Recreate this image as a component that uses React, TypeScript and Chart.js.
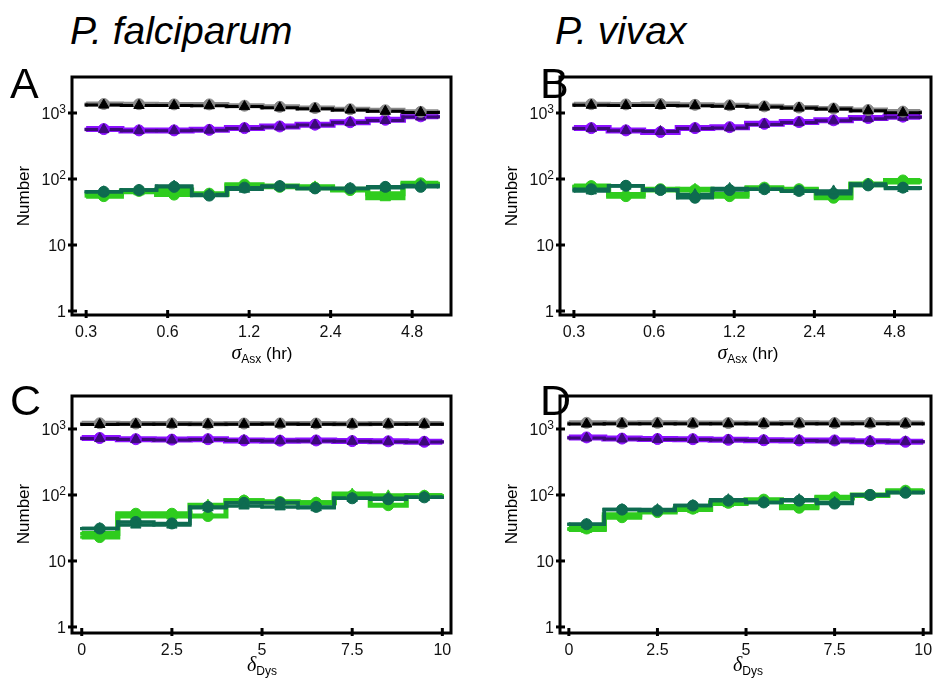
import React, { useEffect, useRef } from 'react';
import { Chart, registerables } from 'chart.js';
Chart.register(...registerables);

// ---------- data ----------
const sigmaEdges = [0.3, 0.405, 0.546, 0.736, 0.993, 1.34, 1.81, 2.44, 3.29, 4.44, 6.0];
const deltaEdges = [0, 1, 2, 3, 4, 5, 6, 7, 8, 9, 10];
const sigmaTicks = [0.3, 0.6, 1.2, 2.4, 4.8];
const sigmaTickLabels = ['0.3', '0.6', '1.2', '2.4', '4.8'];
const deltaTicks = [0, 2.5, 5, 7.5, 10];
const deltaTickLabels = ['0', '2.5', '5', '7.5', '10'];
const yTicks = [1, 10, 100, 1000];
const yTickBase = ['1', '10', '10', '10'];
const yTickExp = ['', '', '2', '3'];

// Panel A (P. falciparum, sigma)
const A_grayC = [1370, 1360, 1350, 1350, 1290, 1240, 1190, 1140, 1100, 1040];
const A_blackT = [1320, 1300, 1300, 1290, 1250, 1200, 1160, 1110, 1060, 1020];
const A_purpleLC = [570, 545, 545, 555, 590, 625, 665, 725, 790, 890];
const A_purpleDT = [560, 540, 540, 550, 580, 615, 655, 715, 770, 870];
const A_greenLC = [55, 66, 58, 60, 82, 76, 74, 68, 60, 86];
const A_greenLT = [60, 64, 68, 58, 78, 78, 76, 70, 52, 82];
const A_greenDC = [64, 68, 76, 56, 74, 78, 72, 72, 76, 76];
const A_greenDT = [64, 68, 78, 58, 70, 76, 72, 72, 74, 80];

// Panel B (P. vivax, sigma)
const B_grayC = [1360, 1350, 1370, 1330, 1310, 1260, 1210, 1170, 1110, 1050];
const B_blackT = [1310, 1300, 1300, 1290, 1270, 1230, 1190, 1150, 1080, 1010];
const B_purpleLC = [590, 545, 515, 590, 610, 685, 730, 775, 840, 880];
const B_purpleDT = [580, 540, 525, 580, 595, 670, 715, 760, 820, 860];
const B_greenLC = [78, 55, 70, 68, 55, 74, 70, 52, 84, 95];
const B_greenLT = [76, 58, 68, 70, 58, 72, 68, 55, 82, 90];
const B_greenDC = [70, 79, 68, 52, 68, 70, 66, 60, 80, 74];
const B_greenDT = [66, 78, 68, 58, 72, 70, 65, 66, 84, 72];

// Panel C (P. falciparum, delta)
const C_grayC = [1220, 1210, 1215, 1205, 1210, 1215, 1210, 1205, 1210, 1215];
const C_blackT = [1170, 1180, 1180, 1175, 1180, 1185, 1175, 1180, 1180, 1175];
const C_purpleLC = [730, 700, 690, 700, 670, 665, 670, 655, 650, 640];
const C_purpleDT = [715, 690, 680, 690, 670, 660, 660, 650, 640, 635];
const C_greenLC = [23, 52, 52, 48, 82, 78, 76, 97, 70, 97];
const C_greenLT = [26, 48, 48, 70, 82, 78, 76, 103, 97, 97];
const C_greenDC = [31, 39, 37, 66, 76, 76, 66, 89, 86, 92];
const C_greenDT = [31, 35, 35, 64, 68, 66, 64, 89, 89, 92];

// Panel D (P. vivax, delta)
const D_grayC = [1240, 1230, 1240, 1230, 1230, 1220, 1240, 1230, 1240, 1230];
const D_blackT = [1190, 1200, 1200, 1195, 1200, 1205, 1195, 1200, 1200, 1195];
const D_purpleLC = [745, 715, 705, 700, 685, 675, 670, 670, 650, 640];
const D_purpleDT = [730, 705, 695, 690, 680, 670, 670, 660, 650, 640];
const D_greenLC = [31, 46, 55, 62, 76, 85, 64, 92, 100, 116];
const D_greenLT = [30, 50, 58, 60, 74, 82, 67, 90, 98, 112];
const D_greenDC = [36, 60, 58, 69, 82, 77, 82, 74, 100, 108];
const D_greenDT = [36, 60, 60, 69, 85, 77, 85, 77, 100, 110];

// ---------- styles ----------
const GRAY = '#8a8a8a';
const BLACK = '#000000';
const PURPLE_L = '#8b10ff';
const PURPLE_D = '#3c0a78';
const GREEN_L = '#2fcc1e';
const GREEN_D = '#0e6b50';
const FONT = '"Liberation Sans", Arial, sans-serif';

type S = { vals: number[]; color: string; marker: string; lw: number; r: number };

function seriesFor(p: number[][]): S[] {
  const [gC, bT, pLC, pDT, gLC, gLT, gDC, gDT] = p;
  // top-most first
  return [
    { vals: bT, color: BLACK, marker: 'triangle', lw: 3, r: 5 },
    { vals: gC, color: GRAY, marker: 'circle', lw: 5, r: 5.5 },
    { vals: pDT, color: PURPLE_D, marker: 'triangle', lw: 3, r: 5 },
    { vals: pLC, color: PURPLE_L, marker: 'circle', lw: 6, r: 5.5 },
    { vals: gDT, color: GREEN_D, marker: 'triangle', lw: 3.5, r: 5 },
    { vals: gDC, color: GREEN_D, marker: 'circle', lw: 3.5, r: 5.5 },
    { vals: gLT, color: GREEN_L, marker: 'triangle', lw: 5, r: 5 },
    { vals: gLC, color: GREEN_L, marker: 'circle', lw: 5, r: 5.5 },
  ];
}

type PanelCfg = {
  left: number; top: number; width: number; height: number;
  padTop: number; padRight: number; yWidth: number; xHeight: number;
  xType: 'logarithmic' | 'linear'; xMin: number; xMax: number;
  xTicks: number[]; xLabels: string[]; edges: number[];
  yMin: number; yMax: number; series: S[];
};

const framePlugin = {
  id: 'frame',
  afterDraw(chart: any) {
    const { ctx, chartArea, scales } = chart;
    const { left, top, right, bottom } = chartArea;
    ctx.save();
    ctx.strokeStyle = '#000';
    ctx.lineWidth = 3;
    ctx.strokeRect(left, top, right - left, bottom - top);
    scales.x.ticks.forEach((t: any) => {
      const px = scales.x.getPixelForValue(t.value);
      ctx.beginPath();
      ctx.moveTo(px, bottom - 5);
      ctx.lineTo(px, bottom + 3);
      ctx.stroke();
    });
    ctx.fillStyle = '#111';
    ctx.textBaseline = 'alphabetic';
    ctx.textAlign = 'right';
    scales.y.ticks.forEach((t: any, i: number) => {
      const py = scales.y.getPixelForValue(t.value);
      ctx.beginPath();
      ctx.moveTo(left - 4, py);
      ctx.lineTo(left + 5, py);
      ctx.stroke();
      const base = yTickBase[i];
      const exp = yTickExp[i];
      let x = left - 6;
      const baseline = py + 6;
      if (exp) {
        ctx.font = `12px ${FONT}`;
        ctx.fillText(exp, x, baseline - 6);
        x -= ctx.measureText(exp).width;
      }
      ctx.font = `16px ${FONT}`;
      ctx.fillText(base, x, baseline);
    });
    ctx.restore();
  },
};

function Panel({ cfg }: { cfg: PanelCfg }) {
  const ref = useRef<HTMLCanvasElement>(null);
  useEffect(() => {
    const e = cfg.edges;
    const centers = e.slice(0, -1).map((x, i) =>
      cfg.xType === 'logarithmic' ? Math.sqrt(x * e[i + 1]) : (x + e[i + 1]) / 2
    );
    const markerSets: any[] = [];
    const lineSets: any[] = [];
    cfg.series.forEach((s) => {
      markerSets.push({
        data: centers.map((x, i) => ({ x, y: s.vals[i] })),
        showLine: false,
        pointStyle: s.marker,
        pointRadius: s.marker === 'triangle' ? s.r + 1 : s.r,
        pointBackgroundColor: s.color,
        pointBorderColor: s.color,
        pointBorderWidth: 1,
      });
      lineSets.push({
        data: e.map((x, i) => ({ x, y: s.vals[Math.min(i, s.vals.length - 1)] })),
        showLine: true,
        stepped: 'before',
        borderColor: s.color,
        borderWidth: s.lw,
        pointStyle: 'rect',
        pointRadius: 2.2,
        pointBackgroundColor: s.color,
        pointBorderColor: s.color,
        pointBorderWidth: 0,
        fill: false,
      });
    });
    const chart = new Chart(ref.current as HTMLCanvasElement, {
      type: 'scatter',
      data: { datasets: [...markerSets, ...lineSets] },
      options: {
        animation: false,
        responsive: false,
        events: [],
        layout: { padding: { top: cfg.padTop, right: cfg.padRight, left: 0, bottom: 0 } },
        plugins: { legend: { display: false }, tooltip: { enabled: false } },
        scales: {
          x: {
            type: cfg.xType,
            min: cfg.xMin,
            max: cfg.xMax,
            grid: { display: false },
            border: { display: false },
            afterBuildTicks: (sc: any) => {
              sc.ticks = cfg.xTicks.map((v) => ({ value: v }));
            },
            afterFit: (sc: any) => {
              sc.height = cfg.xHeight;
            },
            ticks: {
              autoSkip: false,
              maxRotation: 0,
              padding: 0,
              color: '#111',
              font: { family: FONT, size: 16 },
              callback: (_v: any, i: number) => cfg.xLabels[i],
            },
          } as any,
          y: {
            type: 'logarithmic',
            min: cfg.yMin,
            max: cfg.yMax,
            grid: { display: false },
            border: { display: false },
            afterBuildTicks: (sc: any) => {
              sc.ticks = yTicks.map((v) => ({ value: v }));
            },
            afterFit: (sc: any) => {
              sc.width = cfg.yWidth;
            },
            ticks: {
              autoSkip: false,
              padding: 6,
              color: 'rgba(0,0,0,0)',
              font: { family: FONT, size: 16 },
              callback: () => '',
            },
          } as any,
        },
      },
      plugins: [framePlugin],
    });
    return () => chart.destroy();
  }, [cfg]);
  return (
    <canvas
      ref={ref}
      width={cfg.width}
      height={cfg.height}
      style={{ position: 'absolute', left: cfg.left, top: cfg.top, width: cfg.width, height: cfg.height }}
    />
  );
}

const panels: PanelCfg[] = [
  {
    left: 0, top: 60, width: 470, height: 320, padTop: 17, padRight: 19, yWidth: 72, xHeight: 65,
    xType: 'logarithmic', xMin: 0.266, xMax: 6.68, xTicks: sigmaTicks, xLabels: sigmaTickLabels,
    edges: sigmaEdges, yMin: 0.87, yMax: 3510,
    series: seriesFor([A_grayC, A_blackT, A_purpleLC, A_purpleDT, A_greenLC, A_greenLT, A_greenDC, A_greenDT]),
  },
  {
    left: 488, top: 60, width: 450, height: 320, padTop: 17, padRight: 2, yWidth: 72, xHeight: 65,
    xType: 'logarithmic', xMin: 0.266, xMax: 6.58, xTicks: sigmaTicks, xLabels: sigmaTickLabels,
    edges: sigmaEdges, yMin: 0.87, yMax: 3510,
    series: seriesFor([B_grayC, B_blackT, B_purpleLC, B_purpleDT, B_greenLC, B_greenLT, B_greenDC, B_greenDT]),
  },
  {
    left: 0, top: 380, width: 470, height: 300, padTop: 16, padRight: 19, yWidth: 72, xHeight: 47,
    xType: 'linear', xMin: -0.27, xMax: 10.24, xTicks: deltaTicks, xLabels: deltaTickLabels,
    edges: deltaEdges, yMin: 0.81, yMax: 3160,
    series: seriesFor([C_grayC, C_blackT, C_purpleLC, C_purpleDT, C_greenLC, C_greenLT, C_greenDC, C_greenDT]),
  },
  {
    left: 488, top: 380, width: 450, height: 300, padTop: 16, padRight: 2, yWidth: 72, xHeight: 47,
    xType: 'linear', xMin: -0.25, xMax: 10.22, xTicks: deltaTicks, xLabels: deltaTickLabels,
    edges: deltaEdges, yMin: 0.81, yMax: 3160,
    series: seriesFor([D_grayC, D_blackT, D_purpleLC, D_purpleDT, D_greenLC, D_greenLT, D_greenDC, D_greenDT]),
  },
];

const abs = (l: number, t: number, extra: any = {}) => ({
  position: 'absolute' as const, left: l, top: t, lineHeight: 1, whiteSpace: 'nowrap' as const, fontFamily: FONT, color: '#000', ...extra,
});

function SigmaTitle({ cx, top }: { cx: number; top: number }) {
  return (
    <div style={abs(cx, top, { transform: 'translateX(-50%)', fontSize: 17 })}>
      <span style={{ fontFamily: '"Liberation Serif", serif', fontStyle: 'italic', fontSize: 20 }}>σ</span>
      <span style={{ fontSize: 12, position: 'relative', top: 4 }}>Asx</span>
      <span> (hr)</span>
    </div>
  );
}

function DeltaTitle({ cx, top }: { cx: number; top: number }) {
  return (
    <div style={abs(cx, top, { transform: 'translateX(-50%)', fontSize: 17 })}>
      <span style={{ fontFamily: '"Liberation Serif", serif', fontStyle: 'italic', fontSize: 20 }}>δ</span>
      <span style={{ fontSize: 12, position: 'relative', top: 4 }}>Dys</span>
    </div>
  );
}

function YTitle({ cx, cy }: { cx: number; cy: number }) {
  return (
    <div style={abs(cx, cy, { transform: 'translate(-50%, -50%) rotate(-90deg)', fontSize: 17 })}>Number</div>
  );
}

export default function App() {
  return (
    <div style={{ position: 'absolute', left: 0, top: 0, width: 938, height: 680, background: '#fff', overflow: 'hidden' }}>
      {panels.map((p, i) => (
        <Panel key={i} cfg={p} />
      ))}
      <div style={abs(70, 11, { fontSize: 39, fontStyle: 'italic' })}>P. falciparum</div>
      <div style={abs(555, 11, { fontSize: 39, fontStyle: 'italic' })}>P. vivax</div>
      <div style={abs(10, 62, { fontSize: 43 })}>A</div>
      <div style={abs(540, 62, { fontSize: 43 })}>B</div>
      <div style={abs(10, 379, { fontSize: 43 })}>C</div>
      <div style={abs(540, 379, { fontSize: 43 })}>D</div>
      <YTitle cx={23} cy={196} />
      <YTitle cx={511} cy={196} />
      <YTitle cx={23} cy={514} />
      <YTitle cx={511} cy={514} />
      <SigmaTitle cx={262} top={342} />
      <SigmaTitle cx={748} top={342} />
      <DeltaTitle cx={262} top={654} />
      <DeltaTitle cx={748} top={654} />
    </div>
  );
}
